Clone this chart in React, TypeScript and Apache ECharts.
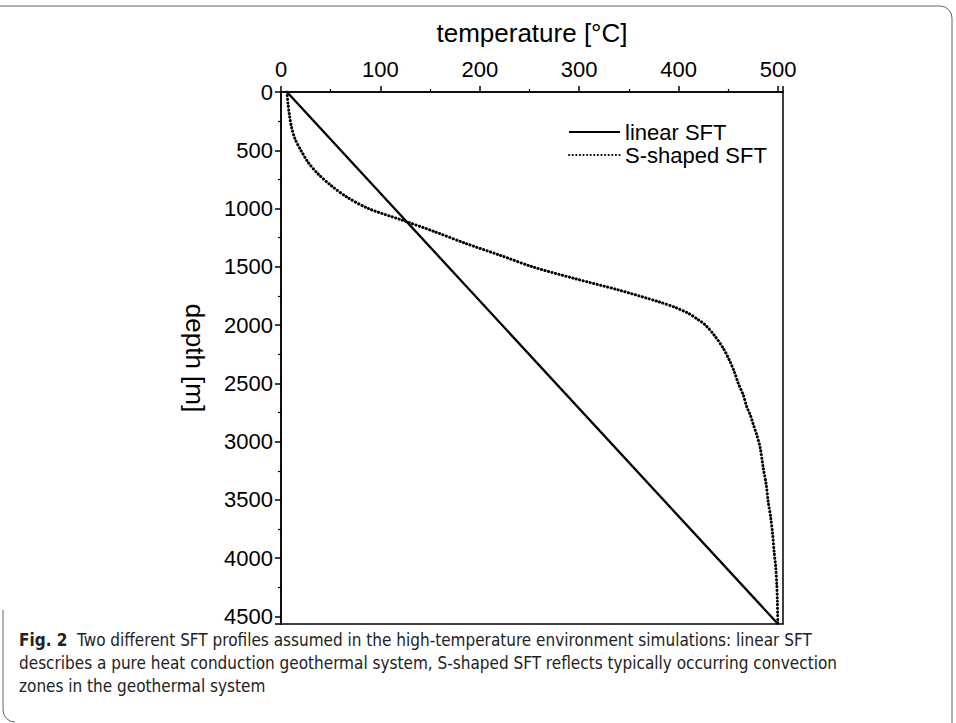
import React, { useEffect, useRef } from "react";
import * as echarts from "echarts";

const xTitle = "temperature [°C]";
const yTitle = "depth [m]";
const seriesNames = ["linear SFT", "S-shaped SFT"];
// [temperature °C, depth m]
const linearSFT: number[][] = [
  [6, 0],
  [500, 4565],
];
const sShapedDepth = [0, 100, 200, 300, 400, 500, 600, 700, 800, 900, 1000, 1100, 1200, 1300, 1400, 1500, 1600, 1700, 1800, 1850, 1900, 1950, 2000, 2100, 2200, 2300, 2400, 2500, 2600, 2700, 2770, 2850, 2940, 3050, 3220, 3365, 3510, 3650, 3800, 3940, 4080, 4220, 4370, 4565];
const sShapedTemp = [6, 7, 8.5, 10.5, 14, 20, 27, 37, 50, 66, 88, 122, 155, 186, 220, 253, 295, 340, 380, 397, 410, 419, 427, 437, 445, 451, 456, 460, 465, 468.5, 472, 475, 478.5, 482, 485, 488, 490, 492.6, 494.6, 496, 497.7, 498.7, 499.3, 499.8];
const xMax = 505;
const yMax = 4565;
const captionBold = "Fig. 2";
const captionLines = [
  "Two different SFT profiles assumed in the high-temperature environment simulations: linear SFT",
  "describes a pure heat conduction geothermal system, S-shaped SFT reflects typically occurring convection",
  "zones in the geothermal system",
];

const FONT = "'Liberation Sans', Arial, Helvetica, sans-serif";
const CAP_FONT = "'Liberation Sans Narrow', 'DejaVu Sans Condensed', 'Open Sans', sans-serif";

export default function App() {
  const ref = useRef<HTMLDivElement>(null);
  useEffect(() => {
    if (!ref.current) return;
    const chart = echarts.init(ref.current, undefined, { renderer: "svg" });
    const sData = sShapedDepth.map((d, i) => [sShapedTemp[i], d]);
    const axisLine = { show: true, lineStyle: { color: "#000", width: 1.5 } };
    const frame = { stroke: "#666", lineWidth: 1, fill: "none" };
    chart.setOption({
      animation: false,
      backgroundColor: "#fff",
      grid: { left: 281, top: 92, width: 502, height: 532, show: true, borderColor: "#000", borderWidth: 1.5, backgroundColor: "transparent" },
      legend: {
        left: 563,
        top: 116,
        orient: "vertical",
        itemWidth: 51,
        itemHeight: 22,
        itemGap: 1,
        itemStyle: { opacity: 0 },
        textStyle: { fontFamily: FONT, fontSize: 22, color: "#000" },
        data: seriesNames,
      },
      xAxis: {
        type: "value",
        position: "top",
        min: 0,
        max: xMax,
        interval: 100,
        name: xTitle,
        nameLocation: "middle",
        nameGap: 46,
        nameTextStyle: { fontFamily: FONT, fontSize: 26, color: "#000" },
        axisLine,
        axisTick: { show: true, inside: false, length: 6, lineStyle: { color: "#000", width: 1.5 } },
        minorTick: { show: true, splitNumber: 2, length: 3, lineStyle: { color: "#000", width: 1.2 } },
        splitLine: { show: false },
        axisLabel: {
          fontFamily: FONT,
          fontSize: 22,
          color: "#000",
          margin: 12,
          formatter: (v: number) => (v % 100 === 0 ? String(v) : ""),
        },
      },
      yAxis: {
        type: "value",
        inverse: true,
        min: 0,
        max: yMax,
        interval: 500,
        name: yTitle,
        nameLocation: "middle",
        nameRotate: -90,
        nameGap: 73,
        nameTextStyle: { fontFamily: FONT, fontSize: 26, color: "#000" },
        axisLine,
        axisTick: { show: true, inside: false, length: 6, lineStyle: { color: "#000", width: 1.5 } },
        minorTick: { show: true, splitNumber: 2, length: 3, lineStyle: { color: "#000", width: 1.2 } },
        splitLine: { show: false },
        axisLabel: {
          fontFamily: FONT,
          fontSize: 22,
          color: "#000",
          margin: 8,
          formatter: (v: number) => (v % 500 === 0 ? String(v) : ""),
        },
      },
      series: [
        {
          name: seriesNames[0],
          type: "line",
          data: linearSFT,
          symbol: "none",
          lineStyle: { color: "#000", width: 2.3, type: "solid" },
          itemStyle: { color: "#000" },
        },
        {
          name: seriesNames[1],
          type: "line",
          data: sData,
          symbol: "none",
          smooth: 0.3,
          lineStyle: { color: "#000", width: 3, type: [0.2, 3.4], cap: "round" },
          itemStyle: { color: "#000" },
        },
      ],
      graphic: [
        { type: "polyline", shape: { points: [[0, 6], [940, 6]] }, style: frame },
        { type: "arc", shape: { cx: 940, cy: 18, r: 12, startAngle: -Math.PI / 2, endAngle: 0 }, style: frame },
        { type: "polyline", shape: { points: [[952, 18], [952, 723]] }, style: frame },
        { type: "polyline", shape: { points: [[3, 610], [3, 710]] }, style: frame },
        { type: "arc", shape: { cx: 15, cy: 710, r: 12, startAngle: Math.PI / 2, endAngle: Math.PI }, style: frame },
        {
          type: "text",
          left: 19,
          top: 631,
          style: {
            text: `{b|${captionBold}}  ${captionLines[0]}`,
            font: `17px ${CAP_FONT}`,
            fill: "#222",
            rich: { b: { fontFamily: CAP_FONT, fontSize: 17, fontWeight: "bold", fill: "#222" } },
          },
        },
        { type: "text", left: 19, top: 654, style: { text: captionLines[1], font: `17px ${CAP_FONT}`, fill: "#222" } },
        { type: "text", left: 19, top: 677, style: { text: captionLines[2], font: `17px ${CAP_FONT}`, fill: "#222" } },
      ],
    });
    return () => chart.dispose();
  }, []);
  return <div ref={ref} style={{ position: "absolute", left: 0, top: 0, width: 956, height: 723 }} />;
}
